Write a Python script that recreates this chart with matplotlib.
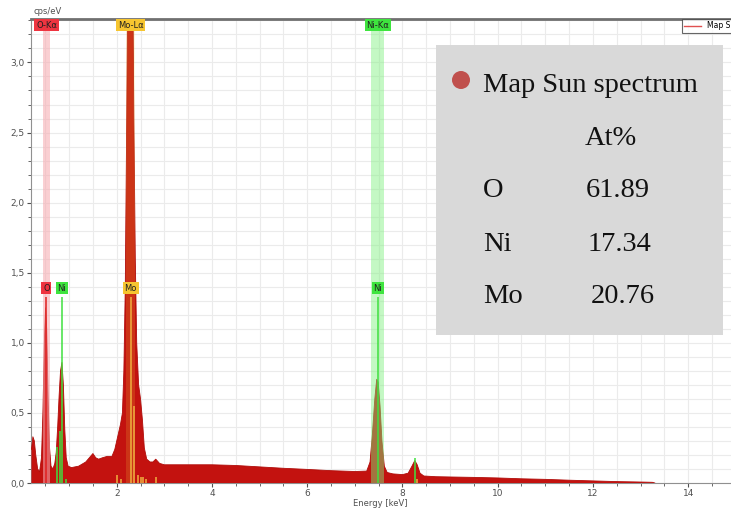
import matplotlib.pyplot as plt
from matplotlib.patches import Rectangle, Circle
from matplotlib.lines import Line2D
from matplotlib.ticker import MultipleLocator, FuncFormatter

# spectrum (keV, cps/eV)
energy = [0.21, 0.24, 0.27, 0.30, 0.34, 0.38, 0.42, 0.45, 0.48, 0.505, 0.53, 0.56,
          0.59, 0.62, 0.66, 0.70, 0.73, 0.76, 0.79, 0.82, 0.85, 0.88, 0.91, 0.94,
          0.98, 1.05, 1.2, 1.35, 1.45, 1.5, 1.56, 1.62, 1.7, 1.8, 1.9, 1.96, 2.02,
          2.08, 2.12, 2.15, 2.18, 2.21, 2.24, 2.26, 2.285, 2.31, 2.33, 2.36, 2.39,
          2.42, 2.46, 2.5, 2.54, 2.58, 2.63, 2.7, 2.76, 2.82, 2.9, 3.0, 3.5, 4.0,
          4.5, 5.0, 5.5, 6.0, 6.5, 7.0, 7.25, 7.32, 7.37, 7.42, 7.46, 7.49, 7.53,
          7.57, 7.62, 7.68, 7.8, 8.0, 8.12, 8.2, 8.26, 8.31, 8.37, 8.45, 8.7, 9.0,
          9.5, 10.0, 10.5, 11.0, 11.5, 12.0, 12.5, 13.0, 13.25, 13.3]
counts = [0.24, 0.33, 0.30, 0.20, 0.10, 0.08, 0.18, 0.50, 1.00, 1.25, 1.10, 0.60,
          0.25, 0.12, 0.10, 0.14, 0.22, 0.40, 0.62, 0.80, 0.86, 0.70, 0.38, 0.18,
          0.12, 0.11, 0.12, 0.15, 0.19, 0.21, 0.18, 0.17, 0.18, 0.19, 0.19, 0.24, 0.33,
          0.42, 0.50, 0.80, 1.40, 2.60, 4.00, 4.90, 5.50, 4.90, 4.00, 2.60, 1.60,
          1.00, 0.70, 0.60, 0.45, 0.25, 0.17, 0.15, 0.15, 0.17, 0.14, 0.13, 0.13, 0.13,
          0.125, 0.115, 0.105, 0.097, 0.088, 0.082, 0.085, 0.15, 0.35, 0.60, 0.74, 0.72, 0.55,
          0.30, 0.12, 0.075, 0.065, 0.06, 0.07, 0.12, 0.16, 0.13, 0.07, 0.05, 0.045, 0.043,
          0.04, 0.036, 0.03, 0.026, 0.02, 0.015, 0.01, 0.007, 0.005, 0.0]

# element marker lines
o_lines = [0.525]
o_heights = [1.33]
ni_lines = [0.851, 0.74, 0.81, 0.93, 7.478, 8.265]
ni_heights = [1.33, 0.26, 0.37, 0.03, 1.33, 0.18]
mo_lines = [2.293, 2.01, 2.09, 2.37, 2.45, 2.52, 2.56, 2.61, 2.82, 8.31]
mo_heights = [1.33, 0.06, 0.03, 0.55, 0.06, 0.04, 0.04, 0.03, 0.04, 0.03]

# quantification table
elements = ['O', 'Ni', 'Mo']
at_pct = ['61.89', '17.34', '20.76']

red = '#c3120f'

fig = plt.figure(figsize=(7.31, 5.11), dpi=100)
W, H = 731, 511
ax = fig.add_axes([31 / W, 1 - 483 / H, 1 - 31 / W, (483 - 19) / H])

ax.fill_between(energy, counts, 0, color=red, lw=0, zorder=3)
ax.plot(energy, counts, color='#b00d0a', lw=0.6, zorder=3)

# line bands
ax.axvspan(0.45, 0.60, color='#f7a8ae', alpha=0.55, lw=0, zorder=4)
ax.axvspan(2.20, 2.38, color='#f7d040', alpha=0.18, lw=0, zorder=4)
ax.axvspan(7.33, 7.62, color='#7cf07c', alpha=0.45, lw=0, zorder=4)

ax.vlines(o_lines, 0, o_heights, color='#e02020', lw=1.1, zorder=5)
ax.vlines(ni_lines, 0, ni_heights, color='#40e040', lw=1.1, zorder=5)
ax.vlines(mo_lines, 0, mo_heights, color='#f0b040', lw=1.1, zorder=5)

lab_kw = dict(fontsize=6, ha='center', va='center', color='#202020', zorder=6)
ax.text(0.525, 1.39, 'O', bbox=dict(boxstyle='square,pad=0.2', fc='#ee3440', ec='none'), **lab_kw)
ax.text(0.851, 1.39, 'Ni', bbox=dict(boxstyle='square,pad=0.2', fc='#3ee43e', ec='none'), **lab_kw)
ax.text(2.293, 1.39, 'Mo', bbox=dict(boxstyle='square,pad=0.2', fc='#f6c530', ec='none'), **lab_kw)
ax.text(7.478, 1.39, 'Ni', bbox=dict(boxstyle='square,pad=0.2', fc='#3ee43e', ec='none'), **lab_kw)
ax.text(0.525, 3.265, 'O-Kα', bbox=dict(boxstyle='square,pad=0.2', fc='#ee3440', ec='none'), **lab_kw)
ax.text(2.293, 3.265, 'Mo-Lα', bbox=dict(boxstyle='square,pad=0.2', fc='#f6c530', ec='none'), **lab_kw)
ax.text(7.478, 3.265, 'Ni-Kα', bbox=dict(boxstyle='square,pad=0.2', fc='#3ee43e', ec='none'), **lab_kw)

ax.set_xlim(0.2, 14.9)
ax.set_ylim(0, 3.31)
ax.xaxis.set_major_locator(MultipleLocator(2))
ax.xaxis.set_minor_locator(MultipleLocator(0.5))
ax.yaxis.set_major_locator(MultipleLocator(0.5))
ax.yaxis.set_minor_locator(MultipleLocator(0.1))
ax.yaxis.set_major_formatter(FuncFormatter(lambda v, p: f'{v:.1f}'.replace('.', ',')))
ax.grid(which='both', color='#ebebeb', lw=0.8, zorder=0)
ax.set_axisbelow(True)
ax.tick_params(which='both', labelsize=6.5, colors='#505050', direction='out', pad=1.5)
ax.tick_params(which='major', length=3, width=0.8)
ax.tick_params(which='minor', length=2, width=0.6)
for s in ['left', 'bottom']:
    ax.spines[s].set_color('#909090')
ax.spines['top'].set_color('#707070')
ax.spines['top'].set_linewidth(2)
ax.spines['right'].set_visible(False)

fig.text(33 / W, 1 - 11 / H, 'cps/eV', fontsize=6, color='#505050', va='center')
fig.text(380 / W, 1 - 503 / H, 'Energy [keV]', fontsize=6, color='#505050', ha='center', va='center')

# small legend in the corner, cut by the figure edge
leg = ax.legend(handles=[Line2D([], [], color='#e05050', lw=1)], labels=['Map Sum Spectrum'],
                loc='upper left', bbox_to_anchor=(682 / W, 1 - 19 / H), bbox_transform=fig.transFigure,
                fontsize=5.5, frameon=True, fancybox=False, borderpad=0.3, handlelength=2.2,
                borderaxespad=0)
leg.get_frame().set_edgecolor('#404040')
leg.get_frame().set_linewidth(0.8)

# grey overlay box with composition
fig.patches.append(Rectangle((436 / W, 1 - 335 / H), (723 - 436) / W, (335 - 45) / H,
                             transform=fig.transFigure, fc='#d9d9d9', ec='none', zorder=10))
fig.patches.append(Circle((461, H - 80), 9, transform=None, fc='#c0504d', ec='none', zorder=11))
serif = dict(family='Liberation Serif', color='#111111', va='baseline', zorder=12)
fig.text(483 / W, 1 - 92 / H, 'Map Sun spectrum', fontsize=20.5, **serif)
fig.text(585 / W, 1 - 145 / H, 'At%', fontsize=20.5, **serif)
rows_y = [197, 251, 303]
vals_x = [586, 588, 591]
for el, v, y, vx in zip(elements, at_pct, rows_y, vals_x):
    fig.text(483 / W, 1 - y / H, el, fontsize=20.5, **serif)
    fig.text(vx / W, 1 - y / H, v, fontsize=20.5, **serif)

fig.savefig('out.png', dpi=100)
